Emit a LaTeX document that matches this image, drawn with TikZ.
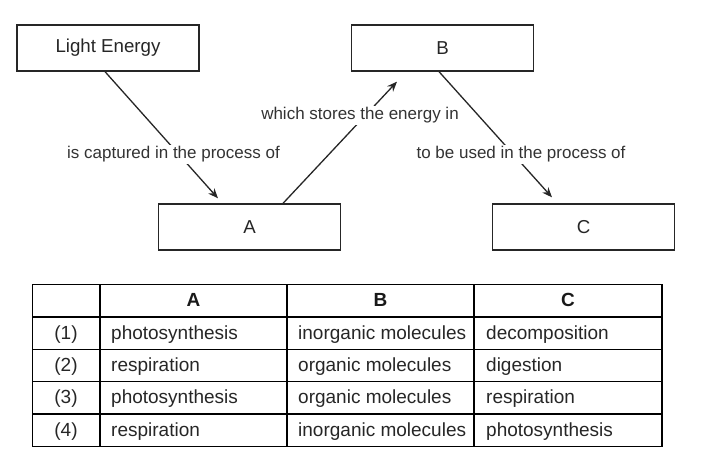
\documentclass[tikz,border=0pt]{standalone}
\usepackage{fontspec}
\setmainfont{Liberation Sans}
\usetikzlibrary{arrows.meta}
\begin{document}
\begin{tikzpicture}[x=1pt,y=-1pt,
  box/.style={draw=black!85, line width=1.3pt, minimum width=182pt, minimum height=46pt, inner sep=0pt, font=\fontsize{18.7}{22}\selectfont, text=black!85},
  lbl/.style={fill=white, inner sep=1.5pt, anchor=mid, yshift=-4pt, font=\fontsize{17}{20}\selectfont, text=black!80},
  conn/.style={draw=black!85, line width=1.3pt, -{Stealth[length=10pt,width=8pt]}},
  tgrid/.style={line width=1.8pt, draw=black},
  cellnum/.style={font=\fontsize{19}{22}\selectfont, text=black!85, inner sep=0pt, anchor=mid, yshift=-3.5pt},
  cell/.style={font=\fontsize{19}{22}\selectfont, text=black!85, inner sep=0pt, anchor=mid west, yshift=-3.5pt},
  head/.style={font=\fontsize{19}{22}\selectfont\bfseries, text=black!90, inner sep=0pt, anchor=mid, yshift=-3.5pt}]
\useasboundingbox (0,0) rectangle (712,463);
% concept map boxes
\node[box] (le) at (108,48) {Light Energy};
\node[box] (b) at (442.5,48) {B};
\node[box] (a) at (249.5,227) {A};
\node[box] (c) at (583.5,227) {C};
% connectors
\draw[conn] ([xshift=-3pt]le.south) -- ([shift={(-31.5pt,5pt)}]a.north);
\draw[conn] ([xshift=33.5pt]a.north) -- ([shift={(-45.5pt,-10pt)}]b.south);
\draw[conn] ([xshift=-3.5pt]b.south) -- ([shift={(-31.5pt,6pt)}]c.north);
% labels
\node[lbl] (l1) at (173.5,152) {is captured in the process of};
\node[lbl] (l2) at (360,113) {which stores the energy in};
\node[lbl] (l3) at (521,152) {to be used in the process of};
% table grid
\draw[tgrid] (32.5,284.5) rectangle (662,446.5);
\foreach \yy in {317,349.5,381.5,414} \draw[tgrid] (32.5,\yy) -- (662,\yy);
\foreach \xx in {100,287,474} \draw[tgrid] (\xx,284.5) -- (\xx,446.5);
% header
\node[head] (ha) at (193.5,300.75) {A};
\node[head] (hb) at (380.5,300.75) {B};
\node[head] (hc) at (568,300.75) {C};
% rows
\node[cellnum] (n1) at (66,333.25) {(1)};
\node[cell] (a1) at (111,333.25) {photosynthesis};
\node[cell] (b1) at (298,333.25) {inorganic molecules};
\node[cell] (c1) at (486,333.25) {decomposition};
\node[cellnum] (n2) at (66,365.5) {(2)};
\node[cell] (a2) at (111,365.5) {respiration};
\node[cell] (b2) at (298,365.5) {organic molecules};
\node[cell] (c2) at (486,365.5) {digestion};
\node[cellnum] (n3) at (66,397.75) {(3)};
\node[cell] (a3) at (111,397.75) {photosynthesis};
\node[cell] (b3) at (298,397.75) {organic molecules};
\node[cell] (c3) at (486,397.75) {respiration};
\node[cellnum] (n4) at (66,430.25) {(4)};
\node[cell] (a4) at (111,430.25) {respiration};
\node[cell] (b4) at (298,430.25) {inorganic molecules};
\node[cell] (c4) at (486,430.25) {photosynthesis};
\end{tikzpicture}
\end{document}
